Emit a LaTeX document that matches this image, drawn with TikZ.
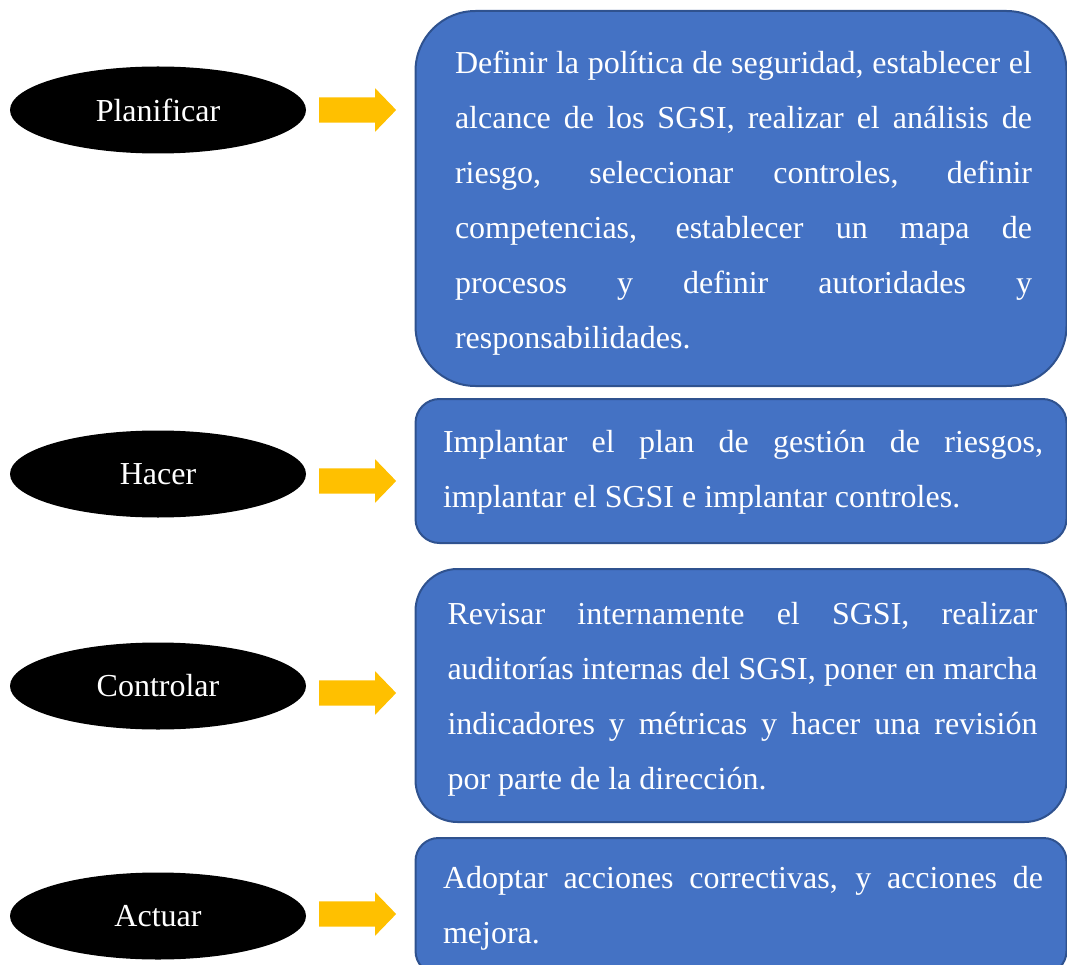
\documentclass[tikz,border=0pt]{standalone}
\usepackage{fontspec}
\setmainfont{Liberation Serif}
\usetikzlibrary{shapes.geometric,shapes.arrows}
\definecolor{boxfill}{HTML}{4472C4}
\definecolor{boxline}{HTML}{2F528F}
\definecolor{arrowfill}{HTML}{FFC000}
\tikzset{
  phase/.style={ellipse, fill=black, text=white, minimum width=296pt, minimum height=87pt,
    inner sep=0pt, font=\fontsize{32}{38}\selectfont},
  stepbox/.style={draw=boxline, line width=2pt, fill=boxfill, minimum width=651pt},
  desc/.style={text=white, align=justify, inner sep=0pt, font=\fontsize{32}{55}\selectfont},
  goarrow/.style={single arrow, fill=arrowfill, draw=none, inner xsep=0pt, inner ysep=12.5pt,
    minimum height=77pt, single arrow head extend=9pt, single arrow tip angle=92}
}
\begin{document}
\begin{tikzpicture}[x=1pt,y=-1pt]
\useasboundingbox (0,0) rectangle (1067,965);
\begin{scope}
\clip (0,0) rectangle (1067,965);

% PDCA phases
\node[phase] (p1) at (158,110) {Planificar};
\node[phase] (p2) at (158,474) {Hacer};
\node[phase] (p3) at (158,686) {Controlar};
\node[phase] (p4) at (158,916) {Actuar};

% arrows pointing to the descriptions
\node[goarrow] (a1) at (351.5,110) {};
\node[goarrow] (a2) at (351.5,481) {};
\node[goarrow] (a3) at (351.5,693) {};
\node[goarrow] (a4) at (351.5,914) {};

% description boxes
\node[stepbox, minimum height=375pt, rounded corners=60pt] (d1) at (741,198.5) {};
\node[stepbox, minimum height=144pt, rounded corners=24pt] (d2) at (741,471) {};
\node[stepbox, minimum height=253pt, rounded corners=42pt] (d3) at (741,695.5) {};
\node[stepbox, minimum height=136pt, rounded corners=23pt] (d4) at (741,906) {};

% description texts
\node[desc, text width=577pt] (t1) at ([shift={(2.5,5)}]d1.center)
  {Definir la política de seguridad, establecer el\linebreak
   alcance de los SGSI, realizar el análisis de\linebreak
   riesgo, seleccionar controles, definir\linebreak
   competencias, establecer un mapa de\linebreak
   procesos y definir autoridades y\linebreak
   responsabilidades.};
\node[desc, text width=600pt] (t2) at ([shift={(2,1)}]d2.center)
  {Implantar el plan de gestión de riesgos,\linebreak
   implantar el SGSI e implantar controles.};
\node[desc, text width=590pt] (t3) at ([shift={(1.5,4)}]d3.center)
  {Revisar internamente el SGSI, realizar\linebreak
   auditorías internas del SGSI, poner en marcha\linebreak
   indicadores y métricas y hacer una revisión\linebreak
   por parte de la dirección.};
\node[desc, text width=600pt] (t4) at ([shift={(2,2)}]d4.center)
  {Adoptar acciones correctivas, y acciones de\linebreak
   mejora.};
\end{scope}
\end{tikzpicture}
\end{document}
